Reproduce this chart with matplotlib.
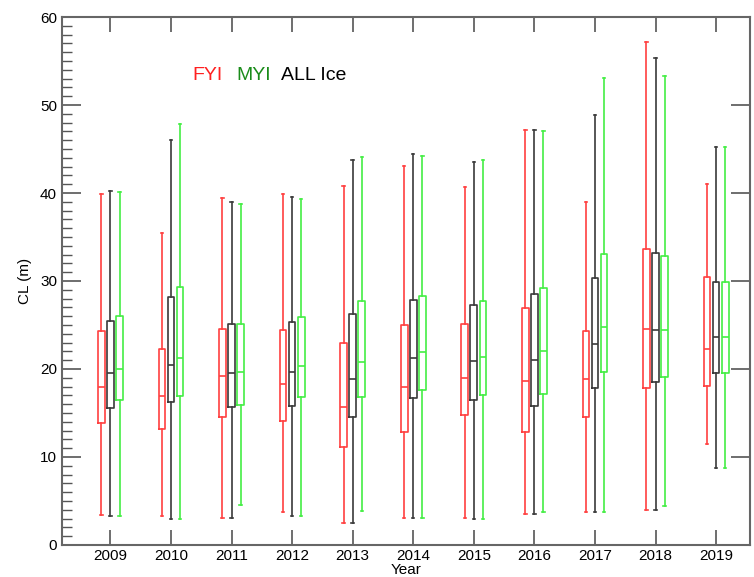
import matplotlib
matplotlib.use("Agg")
import matplotlib.pyplot as plt
from matplotlib.ticker import MultipleLocator

plt.rcParams['font.family'] = ['Liberation Sans', 'DejaVu Sans']

years = [2009, 2010, 2011, 2012, 2013, 2014, 2015, 2016, 2017, 2018, 2019]

# box statistics per year: [low whisker, Q1, median, Q3, high whisker]
fyi = [
    [3.4, 13.9, 18.0, 24.3, 39.9],
    [3.3, 13.2, 16.9, 22.3, 35.4],
    [3.1, 14.5, 19.2, 24.6, 39.4],
    [3.8, 14.1, 18.3, 24.4, 39.9],
    [2.5, 11.1, 15.7, 23.0, 40.8],
    [3.1, 12.8, 17.9, 25.0, 43.1],
    [3.1, 14.8, 19.0, 25.1, 40.7],
    [3.5, 12.8, 18.6, 26.9, 47.2],
    [3.8, 14.5, 18.9, 24.3, 39.0],
    [4.0, 17.8, 24.5, 33.6, 57.2],
    [11.5, 18.1, 22.3, 30.5, 41.0],
]
all_ice = [
    [3.3, 15.6, 19.5, 25.4, 40.2],
    [3.0, 16.3, 20.4, 28.2, 46.0],
    [3.1, 15.7, 19.6, 25.1, 39.0],
    [3.3, 15.8, 19.7, 25.3, 39.6],
    [2.5, 14.5, 18.9, 26.2, 43.7],
    [3.1, 16.7, 21.3, 27.8, 44.4],
    [2.9, 16.5, 20.9, 27.3, 43.5],
    [3.5, 15.8, 21.0, 28.5, 47.2],
    [3.8, 17.8, 22.8, 30.3, 48.9],
    [4.0, 18.5, 24.4, 33.2, 55.3],
    [8.8, 19.6, 23.6, 29.9, 45.2],
]
myi = [
    [3.3, 16.5, 20.0, 26.0, 40.1],
    [3.0, 16.9, 21.2, 29.3, 47.8],
    [4.5, 15.9, 19.7, 25.1, 38.8],
    [3.3, 16.8, 20.3, 25.9, 39.3],
    [3.9, 16.8, 20.8, 27.7, 44.1],
    [3.1, 17.6, 21.9, 28.3, 44.2],
    [2.9, 17.0, 21.4, 27.7, 43.7],
    [3.7, 17.2, 22.0, 29.2, 47.0],
    [3.8, 19.7, 24.8, 33.1, 53.1],
    [4.4, 19.1, 24.4, 32.8, 53.3],
    [8.8, 19.6, 23.6, 29.9, 45.2],
]

series = [(fyi, '#ff4040', -0.15), (all_ice, '#3a3a3a', 0.0), (myi, '#44ee44', 0.15)]

fig = plt.figure(figsize=(7.54, 5.77), dpi=100)
ax = fig.add_axes([0.0822, 0.0555, 0.9125, 0.915])

for data, col, off in series:
    stats = [dict(whislo=d[0], q1=d[1], med=d[2], q3=d[3], whishi=d[4], fliers=[])
             for d in data]
    lw = 1.2
    ax.bxp(stats, positions=[y + off for y in years], widths=0.11,
           capwidths=0.04, showfliers=False, manage_ticks=False,
           boxprops=dict(color=col, linewidth=lw),
           whiskerprops=dict(color=col, linewidth=lw),
           capprops=dict(color=col, linewidth=lw),
           medianprops=dict(color=col, linewidth=lw))

ax.set_xlim(2008.2, 2019.56)
ax.set_ylim(0, 60)
ax.set_xticks(years)
ax.set_xticklabels([str(y) for y in years], fontsize=11)
ax.yaxis.set_major_locator(MultipleLocator(10))
ax.yaxis.set_minor_locator(MultipleLocator(1))
ax.tick_params(axis='y', which='major', direction='in', length=14, width=1.2,
               right=True, labelsize=11, colors='#555555', labelcolor='black')
ax.tick_params(axis='y', which='minor', direction='in', length=7, width=1.0,
               right=False, colors='#555555')
ax.tick_params(axis='x', which='major', direction='in', length=11, width=1.2,
               top=True, colors='#555555', labelcolor='black', pad=3)
for s in ax.spines.values():
    s.set_color('#666666')
    s.set_linewidth(1.5)

ax.set_ylabel('CL (m)', fontsize=11, labelpad=6)
ax.set_xlabel('Year', fontsize=11, labelpad=0)

# coloured labels acting as legend
ax.text(0.19, 0.89, 'FYI', color='#ff2020', fontsize=14, transform=ax.transAxes,
        ha='left', va='center')
ax.text(0.253, 0.89, 'MYI', color='#1a8c1a', fontsize=14, transform=ax.transAxes,
        ha='left', va='center')
ax.text(0.318, 0.89, 'ALL Ice', color='black', fontsize=14, transform=ax.transAxes,
        ha='left', va='center')

plt.savefig('out.png', dpi=100)
plt.close()
